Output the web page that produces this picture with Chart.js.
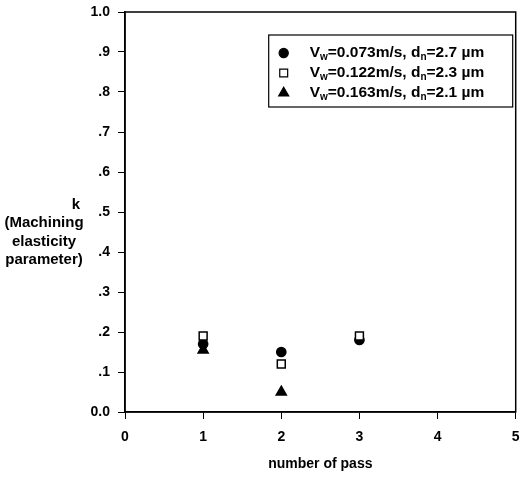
<!DOCTYPE html>
<html>
<head>
<meta charset="utf-8">
<script src="https://cdn.jsdelivr.net/npm/chart.js@4.4.1/dist/chart.umd.min.js"></script>
<style>
  body { margin: 0; background: #fff; }
  canvas { display: block; }
</style>
</head>
<body>
<canvas id="kChart" width="523" height="477"></canvas>
<script>
const passes = [1, 2, 3];

// k values, one list per feed speed
const kLow = [0.17, 0.15, 0.18];
const kMid = [0.19, 0.12, 0.19];
const kHigh = [0.155, 0.05, null];

const speedLabels = ["0.073m/s", "0.122m/s", "0.163m/s"];
const grainLabels = ["2.7", "2.3", "2.1"];

const yTickLabels = ["0.0", ".1", ".2", ".3", ".4", ".5", ".6", ".7", ".8", ".9", "1.0"];
const xTickLabels = ["0", "1", "2", "3", "4", "5"];
const yTitleLines = ["k", "(Machining", "elasticity", "parameter)"];
const xTitle = "number of pass";

const FONT = "Arial, 'Liberation Sans', sans-serif";

function toPoints(values) {
  return passes.map((p, i) => ({ x: p, y: values[i] }));
}

const markers = [
  { pointStyle: "circle", radius: 4.6, fill: "#000" },
  { pointStyle: "rect", radius: 5.6, fill: "#fff" },
  { pointStyle: "triangle", radius: 5.8, fill: "#000" },
];

const seriesValues = [kLow, kMid, kHigh];
const drawOrder = [3, 1, 2];

const datasets = seriesValues.map((vals, i) => ({
  label: "Vw=" + speedLabels[i] + ", dn=" + grainLabels[i] + " µm",
  data: toPoints(vals),
  pointStyle: markers[i].pointStyle,
  pointRadius: markers[i].radius,
  pointHoverRadius: markers[i].radius,
  pointBackgroundColor: markers[i].fill,
  pointBorderColor: "#000",
  pointBorderWidth: 1.5,
  showLine: false,
  order: drawOrder[i],
}));

// frame, horizontal y title and the legend with subscripts
const extras = {
  id: "extras",
  afterDraw(chart) {
    const ctx = chart.ctx;
    const a = chart.chartArea;
    ctx.save();
    ctx.strokeStyle = "#000";
    ctx.lineWidth = 1.5;
    ctx.strokeRect(a.left, a.top, a.right - a.left, a.bottom - a.top);

    ctx.fillStyle = "#000";
    ctx.font = "bold 15px " + FONT;
    ctx.textBaseline = "middle";
    ctx.textAlign = "center";
    ctx.fillText(yTitleLines[0], 76, 205);
    for (let i = 1; i < yTitleLines.length; i++) {
      ctx.fillText(yTitleLines[i], 44, 205 + i * 18.3);
    }

    // legend box, kept just inside the right frame
    const bw = 244, bh = 72;
    const bx = a.right - 3 - bw, by = 35;
    ctx.fillStyle = "#fff";
    ctx.fillRect(bx, by, bw, bh);
    ctx.lineWidth = 1.2;
    ctx.strokeRect(bx, by, bw, bh);

    for (let i = 0; i < 3; i++) {
      const y = 53 + i * 20;
      ctx.fillStyle = markers[i].fill;
      ctx.strokeStyle = "#000";
      Chart.helpers.drawPoint(ctx, {
        pointStyle: markers[i].pointStyle,
        radius: markers[i].radius,
        rotation: 0,
        borderWidth: 1.5,
      }, bx + 15, y);

      ctx.fillStyle = "#000";
      ctx.textAlign = "left";
      ctx.textBaseline = "middle";
      const parts = [
        ["V", false], ["w", true], ["=" + speedLabels[i] + ", d", false],
        ["n", true], ["=" + grainLabels[i] + " µm", false],
      ];
      let x = bx + 41;
      parts.forEach(([t, sub]) => {
        ctx.font = (sub ? "bold 10px " : "bold 15.5px ") + FONT;
        ctx.fillText(t, x, sub ? y + 4 : y);
        x += ctx.measureText(t).width;
      });
    }
    ctx.restore();
  },
};

new Chart(document.getElementById("kChart"), {
  type: "scatter",
  data: { datasets },
  options: {
    responsive: false,
    animation: false,
    layout: { padding: { left: 0, top: 12, right: 0, bottom: 0 } },
    plugins: {
      legend: { display: false },
      tooltip: { enabled: false },
    },
    scales: {
      x: {
        type: "linear",
        min: 0,
        max: 5,
        afterFit: (s) => { s.height = 65; s.paddingLeft = 0; s.paddingRight = 0; },
        border: { display: true, color: "#000", width: 1.5 },
        grid: { drawOnChartArea: false, drawTicks: true, tickLength: 7, color: "#000" },
        ticks: {
          stepSize: 1,
          color: "#000",
          padding: 10,
          font: { family: FONT, size: 14, weight: "bold" },
          callback: (v) => xTickLabels[Math.round(v)],
        },
        title: {
          display: true,
          text: xTitle,
          color: "#000",
          padding: { top: 4, bottom: 4 },
          font: { family: FONT, size: 14, weight: "bold" },
        },
      },
      y: {
        type: "linear",
        min: 0,
        max: 1,
        afterFit: (s) => { s.width = 125; s.paddingTop = 0; s.paddingBottom = 0; },
        border: { display: true, color: "#000", width: 1.5 },
        grid: { drawOnChartArea: false, drawTicks: true, tickLength: 7, color: "#000" },
        ticks: {
          stepSize: 0.1,
          color: "#000",
          padding: 8,
          font: { family: FONT, size: 14, weight: "bold" },
          callback: (v) => yTickLabels[Math.round(v * 10)],
        },
      },
    },
  },
  plugins: [extras],
});
</script>
</body>
</html>
